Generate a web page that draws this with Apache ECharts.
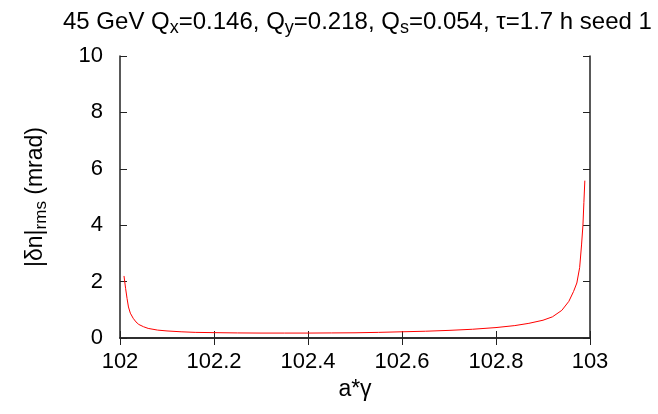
<!DOCTYPE html>
<html>
<head>
<meta charset="utf-8">
<script src="https://cdn.jsdelivr.net/npm/echarts@6/dist/echarts.min.js"></script>
<style>html,body{margin:0;padding:0;background:#fff;}#c{width:658px;height:414px;}</style>
</head>
<body>
<div id="c"></div>
<script>
var aGamma = [102.0085, 102.012, 102.015, 102.018, 102.022, 102.028, 102.034, 102.04, 102.05, 102.06, 102.08, 102.1, 102.13, 102.16, 102.2, 102.25, 102.3, 102.35, 102.4, 102.45, 102.5, 102.55, 102.6, 102.65, 102.7, 102.75, 102.8, 102.84, 102.87, 102.9, 102.92, 102.94, 102.955, 102.965, 102.972, 102.978, 102.982, 102.985, 102.987, 102.989];
var deltaN = [2.2, 1.75, 1.4, 1.1, 0.88, 0.7, 0.57, 0.48, 0.40, 0.34, 0.28, 0.25, 0.22, 0.20, 0.19, 0.18, 0.175, 0.175, 0.175, 0.18, 0.185, 0.2, 0.22, 0.24, 0.27, 0.31, 0.37, 0.44, 0.52, 0.63, 0.75, 0.98, 1.3, 1.65, 1.95, 2.5, 3.3, 4.0, 4.8, 5.58];
var xTicks = [102, 102.2, 102.4, 102.6, 102.8, 103];
var yTicks = [0, 2, 4, 6, 8, 10];

var FONT = 'Liberation Sans, Arial, sans-serif';
var axisLine = {show: true, lineStyle: {color: '#222', width: 1.5}};
var chart = echarts.init(document.getElementById('c'));
var pts = aGamma.map(function (x, i) { return [x, deltaN[i]]; });
chart.setOption({
  animation: false,
  backgroundColor: '#fff',
  title: {
    text: '45 GeV Q{s|x}=0.146, Q{s|y}=0.218, Q{s|s}=0.054, \u03c4=1.7 h seed 1',
    left: 58, top: 2,
    textStyle: {
      fontFamily: FONT, fontSize: 24, fontWeight: 'normal', color: '#000',
      rich: {s: {fontFamily: FONT, fontSize: 18, color: '#000', padding: [12, 0, 0, 0]}}
    }
  },
  grid: {left: 120, right: 68, top: 56, bottom: 76},
  xAxis: [{
    type: 'value', min: 102, max: 103, interval: 0.2,
    name: 'a*\u03b3', nameLocation: 'middle', nameGap: 38,
    nameTextStyle: {fontFamily: FONT, fontSize: 23, color: '#000'},
    axisLine: axisLine,
    axisTick: {show: true, inside: true, length: 7, lineStyle: {color: '#222', width: 1}},
    axisLabel: {fontFamily: FONT, fontSize: 22, color: '#000', margin: 13,
      formatter: function (v) { return String(Math.round(v * 10) / 10); }},
    splitLine: {show: false}
  }, {
    type: 'value', min: 102, max: 103, interval: 0.2, position: 'top',
    axisLine: axisLine,
    axisTick: {show: true, inside: true, length: 7, lineStyle: {color: '#222', width: 1}},
    axisLabel: {show: false}, splitLine: {show: false}
  }],
  yAxis: [{
    type: 'value', min: 0, max: 10, interval: 2,
    name: '|\u03b4n|{s|rms} (mrad)', nameLocation: 'middle', nameGap: 70, nameRotate: 90,
    nameTextStyle: {fontFamily: FONT, fontSize: 23, color: '#000',
      rich: {s: {fontFamily: FONT, fontSize: 17, color: '#000', padding: [12, 0, 0, 0]}}},
    axisLine: axisLine,
    axisTick: {show: true, inside: true, length: 7, lineStyle: {color: '#222', width: 1}},
    axisLabel: {fontFamily: FONT, fontSize: 22, color: '#000', margin: 17},
    splitLine: {show: false}
  }, {
    type: 'value', min: 0, max: 10, interval: 2, position: 'right',
    axisLine: axisLine,
    axisTick: {show: true, inside: true, length: 7, lineStyle: {color: '#222', width: 1}},
    axisLabel: {show: false}, splitLine: {show: false}
  }],
  series: [{
    type: 'line', data: pts, xAxisIndex: 0, yAxisIndex: 0,
    showSymbol: false, symbol: 'none', smooth: false,
    lineStyle: {color: '#ff0000', width: 1}
  }]
});
</script>
</body>
</html>
